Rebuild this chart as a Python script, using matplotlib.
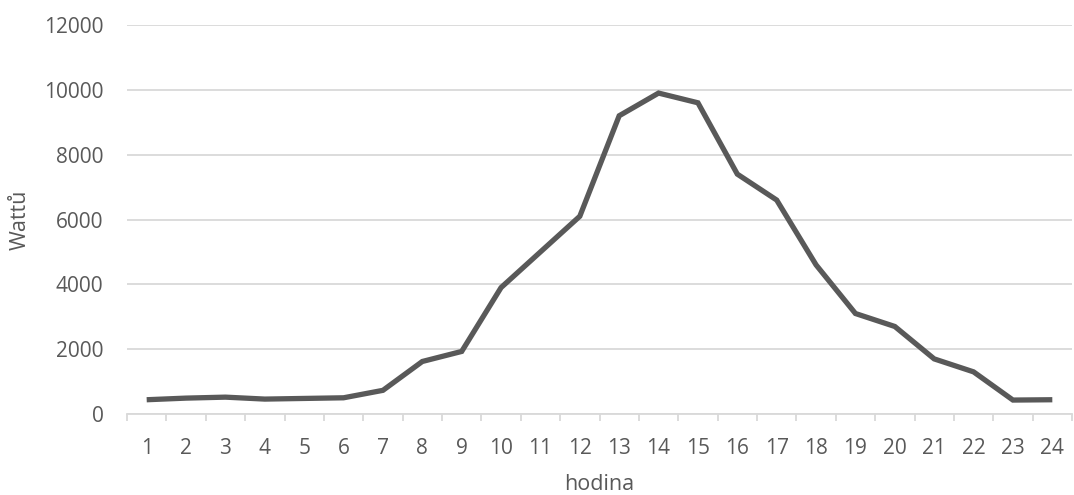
import matplotlib
matplotlib.use("Agg")
import matplotlib.pyplot as plt
from matplotlib.ticker import FixedLocator, MultipleLocator

hours = list(range(1, 25))
watts = [440, 490, 520, 460, 480, 500, 730, 1620, 1930, 3900, 5000, 6100,
         9200, 9900, 9600, 7400, 6600, 4600, 3100, 2700, 1700, 1300, 430, 440]
x_label = "hodina"
y_label = "Wattů"

plt.rcParams['font.family'] = ['Open Sans', 'DejaVu Sans']
text_color = '#595959'
grid_color = '#d9d9d9'

fig = plt.figure(figsize=(10.74, 4.95), dpi=100)
ax = fig.add_axes([127/1074, 81/495, 945/1074, 389/495])

ax.plot(hours, watts, color='#595959', lw=3.8, solid_joinstyle='miter', solid_capstyle='butt')

ax.set_xlim(0.5, 24.5)
ax.set_ylim(0, 12000)
ax.yaxis.set_major_locator(MultipleLocator(2000))
ax.set_xticks(hours)
ax.set_xticklabels([str(h) for h in hours])
ax.xaxis.set_minor_locator(FixedLocator([h + 0.5 for h in range(0, 25)]))

ax.grid(axis='y', color=grid_color, lw=1.3)
ax.set_axisbelow(True)
for s in ['top', 'right', 'left']:
    ax.spines[s].set_visible(False)
ax.spines['bottom'].set_color(grid_color)
ax.spines['bottom'].set_linewidth(1.3)

ax.tick_params(axis='x', which='major', length=0, pad=17, labelsize=15, labelcolor=text_color)
ax.tick_params(axis='x', which='minor', length=5, width=1.3, color=grid_color)
ax.tick_params(axis='y', which='major', length=0, pad=17, labelsize=15, labelcolor=text_color)

ax.set_xlabel(x_label, fontsize=15.5, color=text_color)
ax.set_ylabel(y_label, fontsize=15.5, color=text_color)
ax.yaxis.set_label_coords((20 - 127) / 945, 0.5)
ax.xaxis.set_label_coords(0.5, (414 - 485) / 389)
ax.xaxis.label.set_va('center')
ax.yaxis.label.set_va('center')

fig.savefig("out.png", dpi=100)
